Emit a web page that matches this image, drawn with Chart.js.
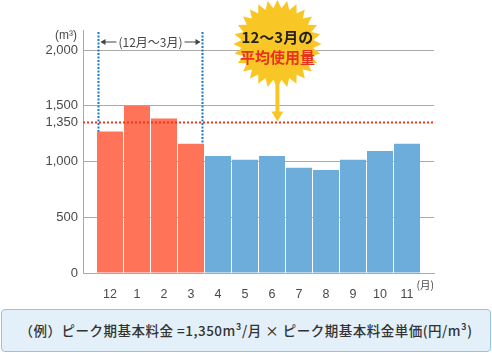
<!DOCTYPE html>
<html>
<head>
<meta charset="utf-8">
<script src="https://cdn.jsdelivr.net/npm/chart.js@4/dist/chart.umd.min.js"></script>
<style>
  html, body { margin: 0; padding: 0; background: #fff; }
  #wrap { position: relative; width: 492px; height: 353px; }
  #chartBox { position: absolute; left: 0; top: 0; width: 492px; height: 300px; }
  #note {
    position: absolute; left: 1px; top: 309px; width: 488px; height: 41px;
    border: 1px solid #93c4e6; border-radius: 4px; background: #e4f0f9;
    font: 500 13.5px "Noto Sans CJK JP", sans-serif; color: #333;
    line-height: 41px; text-align: center; letter-spacing: 0.5px;
  }
</style>
</head>
<body>
<div id="wrap">
  <div id="chartBox"><canvas id="usageChart"></canvas></div>
  <div id="note">（例）ピーク期基本料金 =1,350m³/月 × ピーク期基本料金単価(円/m³)</div>
</div>
<script>
// 月 (12月〜11月)
const months = ['12', '1', '2', '3', '4', '5', '6', '7', '8', '9', '10', '11'];
// 使用量 (m3)
const usage = [1270, 1500, 1385, 1160, 1050, 1015, 1050, 945, 925, 1015, 1095, 1160];
const peakCount = 4;           // 12月〜3月
const peakAverage = 1350;      // 平均使用量
const yTicks = [0, 500, 1000, 1350, 1500, 2000];

const RED = '#ff7358';
const BLUE = '#6caddb';
const FONT = '"Liberation Sans", "Noto Sans CJK JP", sans-serif';

const notes = {
    id: 'notes',
    beforeDatasetsDraw(chart) {
        const { ctx, chartArea, scales: { x, y } } = chart;
        const x1 = x.getPixelForValue(-0.5) + 2;
        const x2 = x.getPixelForValue(peakCount - 0.5) - 2;
        const top = chartArea.top + 2;

        ctx.save();
        ctx.strokeStyle = '#1f78c9';
        ctx.lineWidth = 2;
        ctx.setLineDash([2, 1.5]);
        [x1, x2].forEach(px => {
            ctx.beginPath();
            ctx.moveTo(px, top);
            ctx.lineTo(px, chartArea.bottom);
            ctx.stroke();
        });
        ctx.setLineDash([]);

        // ←（12月～3月）→
        const ty = chartArea.top + 12;
        ctx.font = '12px "Noto Sans CJK JP", sans-serif';
        ctx.fillStyle = '#444';
        ctx.textAlign = 'center';
        ctx.textBaseline = 'middle';
        const label = '(12月～3月)';
        const mid = (x1 + x2) / 2;
        const w = ctx.measureText(label).width;
        ctx.fillText(label, mid, ty);
        ctx.strokeStyle = '#444';
        ctx.lineWidth = 1;
        ctx.beginPath();
        ctx.moveTo(x1 + 3, ty); ctx.lineTo(mid - w / 2 - 2, ty);
        ctx.moveTo(mid + w / 2 + 2, ty); ctx.lineTo(x2 - 3, ty);
        ctx.stroke();
        ctx.beginPath();
        ctx.moveTo(x1 + 2, ty); ctx.lineTo(x1 + 7, ty - 3); ctx.lineTo(x1 + 7, ty + 3); ctx.closePath();
        ctx.moveTo(x2 - 2, ty); ctx.lineTo(x2 - 7, ty - 3); ctx.lineTo(x2 - 7, ty + 3); ctx.closePath();
        ctx.fill();
        ctx.restore();
    },
    afterDatasetsDraw(chart) {
        const { ctx, chartArea, scales: { x, y } } = chart;
        const avgY = y.getPixelForValue(peakAverage);

        ctx.save();
        // 平均線
        ctx.strokeStyle = '#f2361a';
        ctx.lineWidth = 2;
        ctx.setLineDash([2, 2]);
        ctx.beginPath();
        ctx.moveTo(chartArea.left, avgY);
        ctx.lineTo(chartArea.right + 1, avgY);
        ctx.stroke();
        ctx.setLineDash([]);

        // 吹き出し (星形)
        const cx = x.getPixelForValue(6.2);
        const cy = chartArea.top + 14;
        const spikes = 28, rOut = 44, rIn = 36;
        ctx.fillStyle = '#f8c725';
        ctx.beginPath();
        for (let i = 0; i < spikes * 2; i++) {
            const r = i % 2 === 0 ? rOut : rIn;
            const a = -Math.PI / 2 + i * Math.PI / spikes;
            const px = cx + Math.cos(a) * r;
            const py = cy + Math.sin(a) * r;
            if (i === 0) ctx.moveTo(px, py); else ctx.lineTo(px, py);
        }
        ctx.closePath();
        ctx.fill();

        // 矢印
        ctx.fillRect(cx - 2, cy + 36, 4, avgY - 10 - (cy + 36));
        ctx.beginPath();
        ctx.moveTo(cx - 6, avgY - 11);
        ctx.lineTo(cx + 6, avgY - 11);
        ctx.lineTo(cx, avgY - 1);
        ctx.closePath();
        ctx.fill();

        ctx.textAlign = 'center';
        ctx.textBaseline = 'middle';
        ctx.font = 'bold 15px "Noto Sans CJK JP", sans-serif';
        ctx.fillStyle = '#222';
        ctx.fillText('12～3月の', cx, cy - 7);
        ctx.fillStyle = '#e8321c';
        ctx.fillText('平均使用量', cx, cy + 13);

        // 単位
        ctx.fillStyle = '#4a4a4a';
        ctx.font = '12px ' + FONT;
        ctx.textAlign = 'right';
        ctx.fillText('(m³)', chartArea.left - 6, chartArea.top + 6);
        ctx.textAlign = 'left';
        ctx.font = '10.5px "Noto Sans CJK JP", sans-serif';
        ctx.fillText('(月)', x.getPixelForValue(11.5) - 4, chartArea.bottom + 12);
        ctx.restore();
    }
};

new Chart(document.getElementById('usageChart'), {
    type: 'bar',
    data: {
        datasets: [{
            data: usage.map((v, i) => ({ x: i, y: v })),
            backgroundColor: usage.map((v, i) => i < peakCount ? RED : BLUE),
            categoryPercentage: 1,
            barPercentage: 26 / 27,
            borderWidth: 0
        }]
    },
    options: {
        responsive: true,
        maintainAspectRatio: false,
        animation: false,
        layout: { padding: { top: 30, right: 58, left: 0, bottom: 0 } },
        plugins: { legend: { display: false }, tooltip: { enabled: false } },
        scales: {
            x: {
                type: 'linear',
                offset: false,
                min: -1,
                max: 12,
                afterFit: s => { s.height = 27; },
                grid: { display: false, offset: false },
                border: { display: true, color: '#aaa', width: 1 },
                ticks: {
                    stepSize: 1,
                    autoSkip: false,
                    maxRotation: 0,
                    padding: 6,
                    color: '#4a4a4a',
                    font: { family: FONT, size: 12.5 },
                    callback: v => months[v] ?? ''
                }
            },
            y: {
                min: 0,
                max: 2180,
                afterFit: s => { s.width = 83; },
                afterBuildTicks: s => { s.ticks = yTicks.map(v => ({ value: v })); },
                grid: {
                    drawTicks: false,
                    color: c => c.tick && c.tick.value === peakAverage ? 'transparent' : '#aaa',
                    lineWidth: 1
                },
                border: { display: true, color: '#aaa', width: 1 },
                ticks: {
                    padding: 5,
                    color: '#4a4a4a',
                    font: { family: FONT, size: 13 },
                    callback: v => v.toLocaleString('en-US')
                }
            }
        }
    },
    plugins: [notes]
});
</script>
</body>
</html>
